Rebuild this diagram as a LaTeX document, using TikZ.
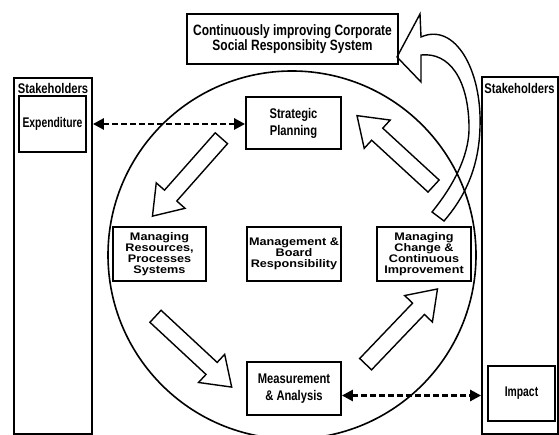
\documentclass[tikz,border=0pt]{standalone}
\usepackage{fontspec}
\setmainfont{Liberation Sans}[FakeStretch=0.8]
\newfontfamily\wideface{Liberation Sans}[FakeStretch=1.15]
\newfontfamily\slimface{Liberation Sans}[FakeStretch=0.74]
\usetikzlibrary{arrows.meta,shapes.arrows}

\tikzset{
  box/.style={draw, line width=1.8pt, align=center, inner sep=1pt, font=\bfseries\fontsize{14}{17}\selectfont},
  widebox/.style={box, font=\wideface\bfseries\fontsize{11}{10.8}\selectfont},
  slimbox/.style={box, font=\slimface\bfseries\fontsize{14}{17}\selectfont},
  frame/.style={draw, line width=1.8pt, inner sep=0pt},
  blockarrow/.style={single arrow, draw, fill=white, line width=1.4pt, inner xsep=0pt, inner ysep=7.5pt, single arrow head extend=11pt, single arrow tip angle=70, minimum height=104pt},
  dasharrow/.style={line width=2.6pt, dash pattern=on 6pt off 3pt, {Triangle[length=11pt,width=11pt]}-{Triangle[length=11pt,width=11pt]}}
}

\begin{document}
\begin{tikzpicture}[x=1pt, y=-1pt]
\useasboundingbox (0,0) rectangle (559,435);

\draw[line width=1.6pt] (292,255) circle[radius=184];

\node[frame, minimum width=78pt, minimum height=356pt] (stakeL) at (53,256) {};
\node[frame, minimum width=76pt, minimum height=357pt] (stakeR) at (520,255.5) {};
\node[font=\bfseries\fontsize{14}{17}\selectfont, inner sep=1pt] (stakeLlab) at (53,88) {Stakeholders};
\node[font=\bfseries\fontsize{14}{17}\selectfont, inner sep=1pt] (stakeRlab) at (519.5,88) {Stakeholders};

\node[slimbox, minimum width=67pt, minimum height=56pt] (expend) at (52.5,124) {Expenditure};
\node[slimbox, minimum width=67pt, minimum height=55pt] (impact) at (521.5,393.5) {Impact};

\node[box, minimum width=211pt, minimum height=50pt, font=\bfseries\fontsize{15}{15}\selectfont] (csr) at (292.5,39) {Continuously improving Corporate\\Social Responsibity System};
\node[box, minimum width=95pt, minimum height=52pt] (plan) at (293.5,123) {Strategic\\Planning};
\node[widebox, minimum width=93pt, minimum height=54pt] (res) at (159.5,254) {Managing\\Resources,\\Processes\\Systems};
\node[widebox, minimum width=94pt, minimum height=54pt] (board) at (294,254) {Management \&\\Board\\Responsibility};
\node[widebox, minimum width=94pt, minimum height=54pt] (change) at (424,254) {Managing\\Change \&\\Continuous\\Improvement};
\node[box, minimum width=94pt, minimum height=53pt] (meas) at (294,388.5) {Measurement\\\& Analysis};

\node[blockarrow, rotate=228.5] (arrPlan) at (190.8,172.8) {};
\node[blockarrow, rotate=317.1] (arrRes) at (189.3,347.7) {};
\node[blockarrow, rotate=46.3] (arrMeas) at (397.5,330.8) {};
\node[blockarrow, rotate=137.4] (arrChange) at (399.6,154.8) {};

\draw[line width=1.4pt, line join=miter] (444,221) .. controls (463,199) and (479,170) .. (480,127)
  .. controls (482,70) and (455,22) .. (421,37) -- (420,14) -- (397,57) -- (421,82) -- (421,55)
  .. controls (450,52) and (468,80) .. (469,125) .. controls (470,150) and (458,180) .. (432,212) -- cycle;

\draw[dasharrow] (stakeL.east |- expend) -- (plan.west |- expend);
\draw[dasharrow] ([yshift=-7pt]meas.east) -- ([yshift=-7pt]meas.east -| stakeR.west);
\end{tikzpicture}
\end{document}
